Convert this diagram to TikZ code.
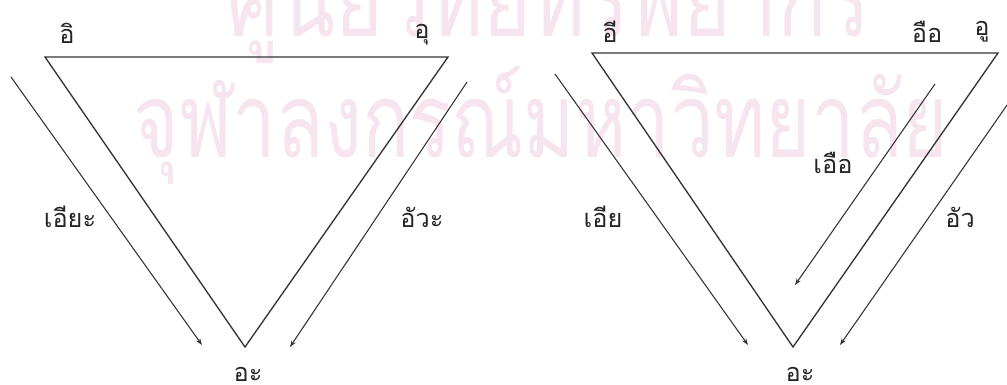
\documentclass[tikz,border=0pt]{standalone}
\usepackage{fontspec}
\newfontfamily\thaifont[Script=Thai]{Loma}
\usetikzlibrary{arrows.meta,positioning}
\definecolor{lineGray}{HTML}{333333}
\definecolor{stampPink}{HTML}{F6E4EF}

\begin{document}
\begin{tikzpicture}[
            x=0.75pt, y=-0.75pt,
            vowel/.style={
                    font=\thaifont\fontsize{19}{22}\selectfont,
                    text=black!85,
                    inner sep=0pt
                },
            low/.style={anchor=base, text depth=0pt},
            stamp/.style={
                    font=\thaifont\fontsize{78}{90}\selectfont,
                    text=stampPink,
                    inner sep=0pt,
                    anchor=base,
                    xscale=0.75
                },
            side/.style={draw=lineGray, line width=1pt, line join=miter},
            glide/.style={->, >={Stealth[length=5pt,width=3.5pt]}, draw=lineGray, line width=0.8pt}
        ]
        \useasboundingbox (0,0) rectangle (1007,385);

        % watermark of the scan
        \node[stamp, xscale=1.05] (stampTop) at (549,37) {ศูนย์วิทยทรัพยากร};
        \node[stamp] (stampBot) at (541,157) {จุฬาลงกรณ์มหาวิทยาลัย};

        % short vowels
        \coordinate (iA) at (45,57);
        \coordinate (uA) at (448,57);
        \coordinate (aA) at (245,347);
        \draw[side] (iA) -- (uA) -- (aA) -- cycle;

        \node[vowel] (labIA) at (67,33) {อิ};
        \node[vowel] (labUA) at (422,35) {อุ};
        \node[vowel, low] (labAA) at (248,381) {อะ};
        \node[vowel] (labIaA) at (70,217) {เอียะ};
        \node[vowel] (labUaA) at (422,217) {อัวะ};

        \coordinate (iaStart) at (11,77);
        \coordinate (iaEnd) at (202,345);
        \coordinate (uaStart) at (467,82);
        \coordinate (uaEnd) at (290,347);
        \draw[glide] (iaStart) -- (iaEnd);
        \draw[glide] (uaStart) -- (uaEnd);

        % long vowels
        \coordinate (iB) at (592,53);
        \coordinate (uB) at (998,53);
        \coordinate (aB) at (793,347);
        \draw[side] (iB) -- (uB) -- (aB) -- cycle;

        \node[vowel] (labIB) at (610,32) {อี};
        \node[vowel] (labUeB) at (927,32) {อือ};
        \node[vowel] (labUB) at (982,32) {อู};
        \node[vowel, low] (labAB) at (800,381) {อะ};
        \node[vowel] (labIaB) at (603,217) {เอีย};
        \node[vowel] (labUeaB) at (833,163) {เอือ};
        \node[vowel] (labUaB) at (960,217) {อัว};

        \coordinate (iaBStart) at (555,74);
        \coordinate (iaBEnd) at (748,345);
        \coordinate (ueaStart) at (935,84);
        \coordinate (ueaEnd) at (795,285);
        \coordinate (uaBStart) at (1021,85);
        \coordinate (uaBEnd) at (840,345);
        \draw[glide] (iaBStart) -- (iaBEnd);
        \draw[glide] (ueaStart) -- (ueaEnd);
        \draw[glide] (uaBStart) -- (uaBEnd);
    \end{tikzpicture}
\end{document}
